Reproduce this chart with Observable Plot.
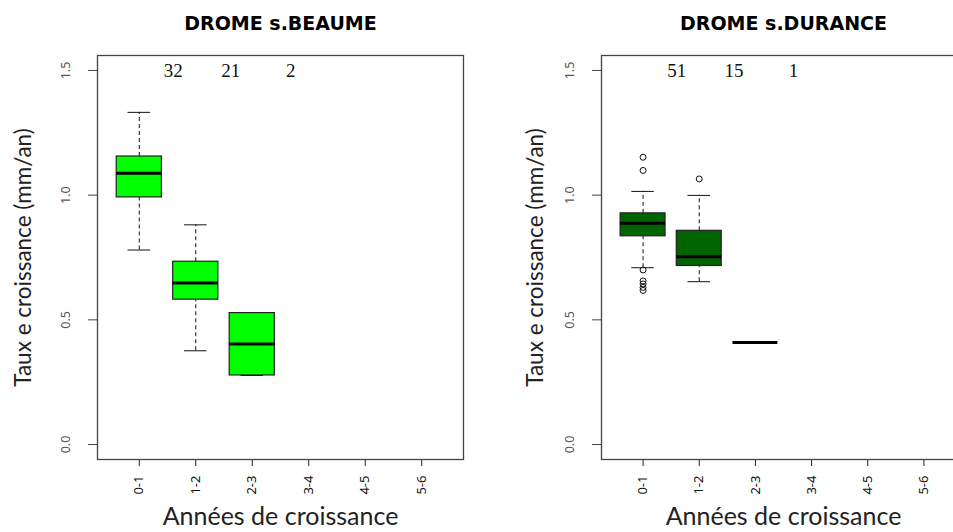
<!DOCTYPE html>
<html>
<head>
<meta charset="utf-8">
<script src="https://cdn.jsdelivr.net/npm/d3@7"></script>
<script src="https://cdn.jsdelivr.net/npm/@observablehq/plot@0.6"></script>
<style>
  html, body { margin: 0; padding: 0; background: #fff; }
  body { width: 953px; height: 532px; overflow: hidden; position: relative; font-family: "Liberation Sans", Arial, sans-serif; }
  .panel { position: absolute; top: 0; height: 532px; }
  .panel svg { max-width: none !important; display: block; }
</style>
</head>
<body>
<div id="left" class="panel" style="left:0px; width:476px"></div>
<div id="right" class="panel" style="left:476px; width:502px"></div>
<script>
// ---- data ----
const categories = ["0-1", "1-2", "2-3", "3-4", "4-5", "5-6"];
const yTicks = [0, 0.5, 1.0, 1.5];
const xTitle = "Années de croissance";
const yTitle = "Taux e croissance (mm/an)";

// DROME s.BEAUME
const beaumeTitle = "DROME s.BEAUME";
const beaumeGroups = ["0-1", "1-2", "2-3"];
const beaumeLow    = [0.780, 0.376, 0.277];
const beaumeQ1     = [0.991, 0.581, 0.277];
const beaumeMedian = [1.088, 0.648, 0.403];
const beaumeQ3     = [1.155, 0.733, 0.527];
const beaumeHigh   = [1.332, 0.881, 0.527];
const beaumeOutGroups = [];
const beaumeOutValues = [];
const beaumeN = [32, 21, 2];

// DROME s.DURANCE
const duranceTitle = "DROME s.DURANCE";
const duranceGroups = ["0-1", "1-2", "2-3"];
const duranceLow    = [0.709, 0.653, 0.409];
const duranceQ1     = [0.835, 0.716, 0.409];
const duranceMedian = [0.887, 0.753, 0.409];
const duranceQ3     = [0.927, 0.857, 0.409];
const duranceHigh   = [1.015, 0.999, 0.409];
const duranceOutGroups = ["0-1", "0-1", "0-1", "0-1", "0-1", "0-1", "0-1", "1-2"];
const duranceOutValues = [1.152, 1.099, 0.700, 0.656, 0.644, 0.630, 0.618, 1.065];
const duranceN = [51, 15, 1];

// x positions (in category units) where the sample sizes are written
const countX = [1.6, 2.62, 3.68];
const countY = 1.5;

// ---- drawing ----
const pos = g => categories.indexOf(g) + 1;

function panel(o) {
  const rows = o.groups.map((g, i) => ({
    pos: pos(g), low: o.low[i], q1: o.q1[i], med: o.med[i], q3: o.q3[i], high: o.high[i]
  }));
  const whiskered = rows.filter(d => d.high > d.low);
  const outs = o.outGroups.map((g, i) => ({pos: pos(g), v: o.outValues[i]}));
  const counts = o.n.map((n, i) => ({x: countX[i], y: countY, n: String(n)}));
  const hw = 0.4, cw = 0.2;
  return Plot.plot({
    width: o.width,
    height: 532,
    marginLeft: o.marginLeft,
    marginRight: 13,
    marginTop: 55,
    marginBottom: 73,
    x: {type: "linear", domain: [0.26, 6.74]},
    y: {type: "linear", domain: [-0.06, 1.56]},
    style: {background: "transparent", overflow: "visible", color: "#111"},
    marks: [
      Plot.axisX(categories.map((_, i) => i + 1), {
        tickSize: 7, tickPadding: 9, tickRotate: -90, label: null,
        tickFormat: p => categories[p - 1], fontSize: 13, stroke: "#222"
      }),
      Plot.axisY(yTicks, {
        tickSize: 9, tickPadding: 19, tickRotate: -90, label: null,
        tickFormat: d3.format(".1f"), fontSize: 12.5, stroke: "#444", fill: "#555"
      }),
      // whiskers
      Plot.ruleX(whiskered, {x: "pos", y1: "q3", y2: "high", stroke: "#111", strokeDasharray: "4,3"}),
      Plot.ruleX(whiskered, {x: "pos", y1: "low", y2: "q1", stroke: "#111", strokeDasharray: "4,3"}),
      Plot.ruleY(whiskered, {y: "high", x1: d => d.pos - cw, x2: d => d.pos + cw, stroke: "#111"}),
      Plot.ruleY(whiskered, {y: "low", x1: d => d.pos - cw, x2: d => d.pos + cw, stroke: "#111"}),
      // boxes
      Plot.rect(rows.filter(d => d.q3 > d.q1), {
        x1: d => d.pos - hw, x2: d => d.pos + hw, y1: "q1", y2: "q3",
        fill: o.fill, stroke: "#222", strokeWidth: 1.2
      }),
      // medians
      Plot.ruleY(rows, {y: "med", x1: d => d.pos - hw, x2: d => d.pos + hw, stroke: "#000", strokeWidth: 3}),
      // outliers
      Plot.dot(outs, {x: "pos", y: "v", r: 3, stroke: "#111", strokeWidth: 1, fill: "none"}),
      // sample sizes
      Plot.text(counts, {x: "x", y: "y", text: "n", fontFamily: "Liberation Serif, Times New Roman, serif", fontSize: 19, fill: "#111"}),
      // frame
      Plot.frame({stroke: "#444", strokeWidth: 1.3}),
      // title
      Plot.text([o.title], {frameAnchor: "top", lineAnchor: "middle", textAnchor: "middle", dy: -32, fontFamily: "DejaVu Sans", fontWeight: "bold", fontSize: 19, fill: "#000"}),
      // axis titles
      Plot.text([xTitle], {frameAnchor: "bottom", lineAnchor: "middle", textAnchor: "middle", dy: 57, fontFamily: "Lato", fontSize: 25, fill: "#222"}),
      Plot.text([yTitle], {frameAnchor: "left", lineAnchor: "middle", textAnchor: "middle", dx: o.yTitleDx, rotate: -90, fontFamily: "Lato", fontSize: 22.5, fill: "#222"})
    ]
  });
}

document.getElementById("left").append(panel({
  width: 476, marginLeft: 97, yTitleDx: -74,
  title: beaumeTitle, fill: "#00ff00", groups: beaumeGroups,
  low: beaumeLow, q1: beaumeQ1, med: beaumeMedian, q3: beaumeQ3, high: beaumeHigh,
  outGroups: beaumeOutGroups, outValues: beaumeOutValues, n: beaumeN
}));

document.getElementById("right").append(panel({
  width: 502, marginLeft: 125, yTitleDx: -66,
  title: duranceTitle, fill: "#006400", groups: duranceGroups,
  low: duranceLow, q1: duranceQ1, med: duranceMedian, q3: duranceQ3, high: duranceHigh,
  outGroups: duranceOutGroups, outValues: duranceOutValues, n: duranceN
}));
</script>
</body>
</html>
